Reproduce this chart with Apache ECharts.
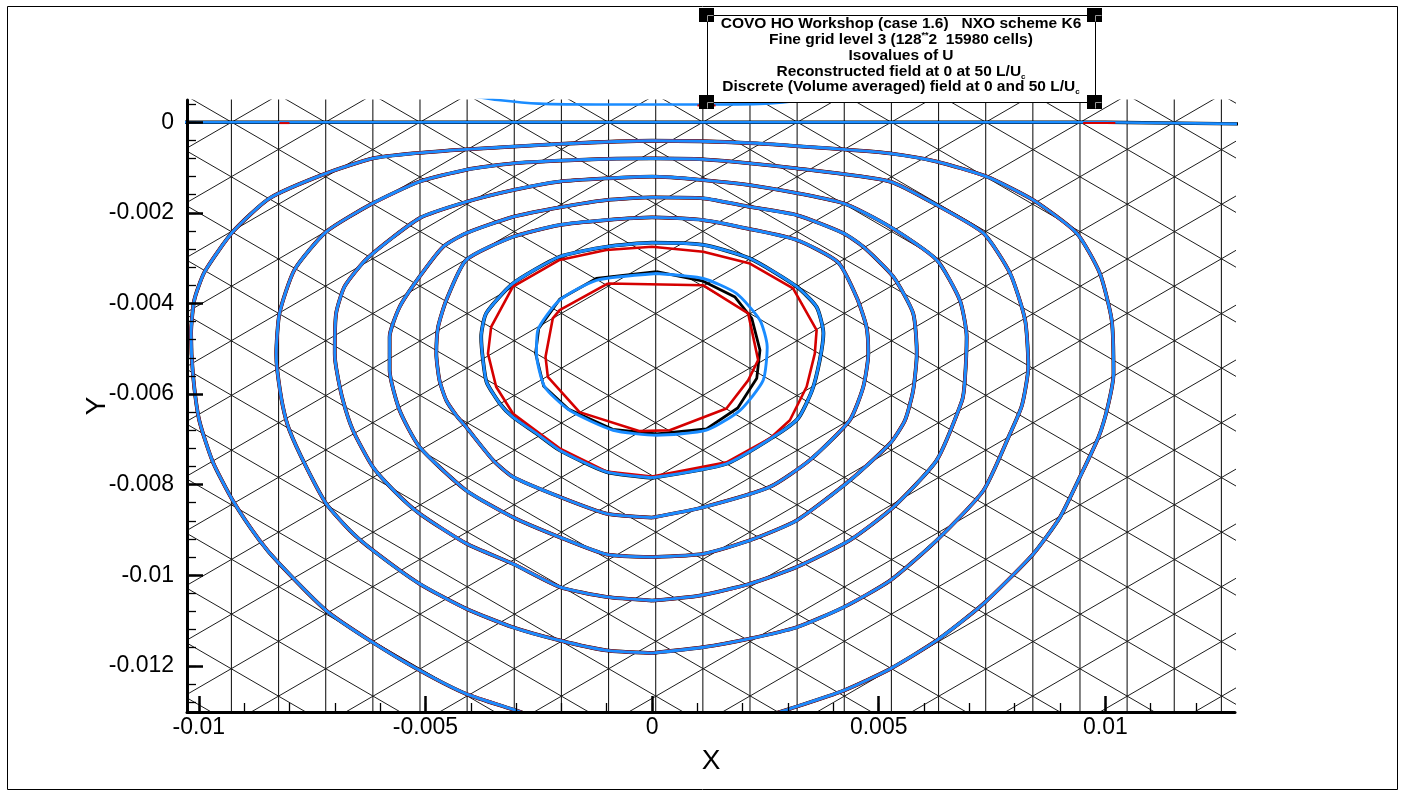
<!DOCTYPE html>
<html>
<head>
<meta charset="utf-8">
<script src="https://cdn.jsdelivr.net/npm/echarts@6.0.0/dist/echarts.min.js"></script>
<style>
  html, body { margin: 0; padding: 0; background: #fff; }
  #chart { width: 1404px; height: 793px; }
</style>
</head>
<body>
<div id="chart"></div>
<script>
// axis ranges (data units)
const xRange = [-0.01026, 0.01286];
const yRange = [-0.01302, 0.00049];

// tick values and labels
const xMajorTicks = [-0.01, -0.005, 0, 0.005, 0.01];
const xTickLabels = ['-0.01', '-0.005', '0', '0.005', '0.01'];
const xMinorTicks = [-0.01, -0.009, -0.008, -0.007, -0.006, -0.005, -0.004, -0.003, -0.002, -0.001, 0,
  0.001, 0.002, 0.003, 0.004, 0.005, 0.006, 0.007, 0.008, 0.009, 0.01, 0.011, 0.012];
const yMajorTicks = [0, -0.002, -0.004, -0.006, -0.008, -0.01, -0.012];
const yTickLabels = ['0', '-0.002', '-0.004', '-0.006', '-0.008', '-0.01', '-0.012'];
const yMinorTicks = [0.0004, 0, -0.0004, -0.0008, -0.0012, -0.0016, -0.002, -0.0024, -0.0028, -0.0032,
  -0.0036, -0.004, -0.0044, -0.0048, -0.0052, -0.0056, -0.006, -0.0064, -0.0068, -0.0072, -0.0076,
  -0.008, -0.0084, -0.0088, -0.0092, -0.0096, -0.01, -0.0104, -0.0108, -0.0112, -0.0116, -0.012,
  -0.0124, -0.0128];

// triangular mesh: vertical edges and the two families of slanted edges (y = +/-slope*x + b)
const meshColumnX = [-0.00928, -0.00824, -0.0072, -0.00616, -0.00512, -0.00408, -0.00304, -0.002,
  -0.00096, 0.00008, 0.00112, 0.00216, 0.0032, 0.00424, 0.00528, 0.00632, 0.00736, 0.0084, 0.00944,
  0.01048, 0.01152, 0.01256];
const meshSlope = 0.58;
const meshRiseIntercepts = [0.00538, 0.00418, 0.00297, 0.00176, 0.00056, -0.00065, -0.00186, -0.00306,
  -0.00427, -0.00548, -0.00668, -0.00789, -0.0091, -0.0103, -0.01151, -0.01272, -0.01392, -0.01513,
  -0.01634, -0.01754, -0.01875, -0.01996];
const meshFallIntercepts = [-0.01866, -0.01745, -0.01624, -0.01503, -0.01383, -0.01262, -0.01141,
  -0.01021, -0.009, -0.0078, -0.00659, -0.00538, -0.00418, -0.00297, -0.00176, -0.00056, 0.00065,
  0.00186, 0.00306, 0.00427, 0.00548, 0.00668, 0.00789];

// isolines of U ([x, y])
const zeroLine = [[-0.0106, 0], [0.0100, 0], [0.0131, -0.00004]];
const zeroLineRedA = [[-0.00822, -0.00002], [-0.0080, -0.00002]];
const zeroLineRedB = [[0.00951, -0.00002], [0.01022, -0.00002]];
const topLineBlue = [[-0.0040, 0.00058], [-0.0034, 0.00049], [-0.0025, 0.00041], [-0.001, 0.00039],
  [0, 0.00039], [0.001, 0.00039], [0.0025, 0.00041], [0.0034, 0.00049], [0.0040, 0.00058]];
const topLineRed = [[0.0010, 0.00037], [0.0014, 0.00037]];

const isoBlue7 = [[-0.00248, -0.01317], [-0.00299, -0.01299], [-0.0041, -0.01262], [-0.00513, -0.0121],
  [-0.00623, -0.01144], [-0.00719, -0.01078], [-0.00822, -0.00975], [-0.00866, -0.00923],
  [-0.00925, -0.00835], [-0.00969, -0.0075], [-0.00999, -0.00658], [-0.01013, -0.00555],
  [-0.01017, -0.00466], [-0.0101, -0.00393], [-0.00987, -0.0033], [-0.00925, -0.00242],
  [-0.00844, -0.00168], [-0.00719, -0.00113], [-0.00616, -0.0008], [-0.00528, -0.00069],
  [-0.00409, -0.0006], [-0.00204, -0.00048], [0, -0.00041], [0.00216, -0.00046], [0.00422, -0.0006],
  [0.00525, -0.00069], [0.00628, -0.00087], [0.00738, -0.0012], [0.00841, -0.00172], [0.00937, -0.00245],
  [0.00988, -0.00334], [0.01014, -0.00437], [0.01018, -0.00555], [0.01006, -0.00625], [0.00985, -0.00695],
  [0.00944, -0.00783], [0.009, -0.00872], [0.00841, -0.00953], [0.00731, -0.01063], [0.00628, -0.01144],
  [0.00525, -0.01207], [0.00422, -0.01255], [0.00304, -0.01295], [0.00249, -0.01312]];
const isoBlue6 = [[0, -0.01172], [-0.00101, -0.01166], [-0.00204, -0.01144], [-0.00307, -0.01115],
  [-0.0041, -0.01074], [-0.00513, -0.01019], [-0.00616, -0.00945], [-0.00667, -0.00901],
  [-0.00719, -0.00842], [-0.00763, -0.00761], [-0.008, -0.0068], [-0.00815, -0.00625],
  [-0.00827, -0.00547], [-0.00829, -0.00511], [-0.00822, -0.00422], [-0.00789, -0.00326],
  [-0.00719, -0.00242], [-0.00616, -0.00179], [-0.00513, -0.00131], [-0.0041, -0.00105],
  [-0.00307, -0.00091], [-0.0016, -0.00083], [0, -0.0008], [0.00113, -0.00082], [0.00319, -0.00102],
  [0.00525, -0.00131], [0.00628, -0.00183], [0.00731, -0.00245], [0.0079, -0.00334], [0.00823, -0.00437],
  [0.0083, -0.0054], [0.00816, -0.00625], [0.0079, -0.00687], [0.00731, -0.00813], [0.00628, -0.00923],
  [0.00525, -0.01012], [0.00422, -0.01071], [0.00319, -0.01115], [0.00216, -0.0114], [0.00113, -0.01159]];
const isoBlue5 = [[0, -0.01056], [-0.00101, -0.01048], [-0.00204, -0.01026], [-0.00307, -0.00975],
  [-0.0041, -0.0093], [-0.00513, -0.00864], [-0.00564, -0.00819], [-0.00616, -0.00761],
  [-0.0066, -0.0068], [-0.00682, -0.00614], [-0.00696, -0.00547], [-0.007, -0.00511],
  [-0.00697, -0.00422], [-0.00678, -0.00362], [-0.00628, -0.00300], [-0.00513, -0.00212],
  [-0.0041, -0.00176], [-0.00307, -0.0015], [-0.00204, -0.00131], [-0.00101, -0.00124], [0, -0.0012],
  [0.00216, -0.00139], [0.00422, -0.00179], [0.00525, -0.00231], [0.00628, -0.00304], [0.00679, -0.00393],
  [0.00694, -0.00474], [0.0069, -0.0057], [0.00684, -0.00614], [0.00628, -0.00746], [0.00532, -0.0085],
  [0.00436, -0.00923], [0.00319, -0.00982], [0.00216, -0.01019], [0.00105, -0.01045]];
const isoBlue4 = [[0, -0.0096], [-0.00101, -0.00954], [-0.00204, -0.00916], [-0.00307, -0.00872],
  [-0.0041, -0.00813], [-0.00513, -0.00717], [-0.00557, -0.00636], [-0.00579, -0.00547],
  [-0.00579, -0.00474], [-0.00557, -0.00408], [-0.00513, -0.00341], [-0.00461, -0.00275],
  [-0.0041, -0.00245], [-0.00307, -0.00209], [-0.00204, -0.00188], [-0.00101, -0.00172], [0, -0.00166],
  [0.00113, -0.00168], [0.00216, -0.00187], [0.00319, -0.00205], [0.00422, -0.00245], [0.00466, -0.00275],
  [0.00532, -0.00341], [0.00576, -0.00422], [0.00584, -0.00511], [0.00576, -0.00592], [0.00558, -0.00658],
  [0.00525, -0.00709], [0.00436, -0.00791], [0.00319, -0.00879], [0.00216, -0.00923], [0.00113, -0.00953]];
const isoBlue3 = [[0, -0.00873], [-0.00101, -0.00864], [-0.00204, -0.00827], [-0.00307, -0.00783],
  [-0.00351, -0.00746], [-0.0041, -0.00673], [-0.00432, -0.00647], [-0.00454, -0.00614],
  [-0.00469, -0.0057], [-0.00476, -0.00511], [-0.00472, -0.00452], [-0.00454, -0.00393],
  [-0.0041, -0.00304], [-0.00307, -0.00253], [-0.00204, -0.00227], [-0.00101, -0.00216], [0, -0.0021],
  [0.00113, -0.00216], [0.00216, -0.00236], [0.00319, -0.0026], [0.0041, -0.00309], [0.00452, -0.00388],
  [0.00473, -0.00452], [0.00477, -0.00511], [0.00466, -0.00584], [0.00436, -0.00658], [0.00348, -0.00746],
  [0.0026, -0.00805], [0.00113, -0.0085]];
const isoBlue2 = [[0, -0.00785], [-0.00101, -0.00772], [-0.00204, -0.00724], [-0.00255, -0.00687],
  [-0.00307, -0.00651], [-0.00336, -0.00621], [-0.00365, -0.00574], [-0.00373, -0.00525],
  [-0.00377, -0.00474], [-0.00366, -0.00422], [-0.00307, -0.00356], [-0.00204, -0.00297],
  [-0.00101, -0.00275], [0, -0.00266], [0.00113, -0.00271], [0.00216, -0.00301], [0.00319, -0.00363],
  [0.00363, -0.00408], [0.00378, -0.00466], [0.0037, -0.00525], [0.00353, -0.00592], [0.00322, -0.00654],
  [0.00267, -0.00695], [0.00164, -0.00754]];
const isoRed2 = [[0, -0.00782], [-0.00101, -0.00771], [-0.00204, -0.0072], [-0.00307, -0.00643],
  [-0.00344, -0.00584], [-0.00362, -0.00511], [-0.00355, -0.00452], [-0.00307, -0.00363],
  [-0.00204, -0.00304], [-0.00101, -0.00282], [0, -0.00275], [0.00113, -0.00286], [0.00216, -0.00312],
  [0.00311, -0.00367], [0.00363, -0.00459], [0.00359, -0.00511], [0.00341, -0.00584], [0.00304, -0.00658],
  [0.0026, -0.00698], [0.00164, -0.00751]];
const isoBlue1 = [[0.0001, -0.00334], [-0.00123, -0.00349], [-0.00204, -0.00393], [-0.00252, -0.00459],
  [-0.00255, -0.00511], [-0.00237, -0.00584], [-0.00182, -0.00636], [-0.00086, -0.0068], [0.0001, -0.00691],
  [0.0012, -0.0068], [0.00194, -0.00636], [0.00245, -0.0057], [0.00254, -0.00496], [0.00238, -0.00437],
  [0.00186, -0.00378], [0.00113, -0.00345]];
const isoBlack1 = [[0.0001, -0.0033], [-0.00123, -0.00345], [-0.00204, -0.00391], [-0.0025, -0.00455],
  [-0.00257, -0.0051], [-0.00239, -0.00583], [-0.00184, -0.00634], [-0.00087, -0.00678], [0.0001, -0.00688],
  [0.0012, -0.00677], [0.00189, -0.00631], [0.00231, -0.00565], [0.00238, -0.00503], [0.0022, -0.00433],
  [0.00183, -0.00386], [0.00113, -0.00351]];
const isoRed1 = [[-0.00097, -0.00356], [0.00113, -0.0036], [0.00212, -0.00422], [0.00234, -0.00525],
  [0.00212, -0.0057], [0.00164, -0.00632], [0.00039, -0.0068], [-0.00027, -0.00682], [-0.0016, -0.0064],
  [-0.0023, -0.00562], [-0.00235, -0.00518], [-0.00219, -0.00433], [-0.00204, -0.00415]];

const FONT = 'Liberation Sans';
const BLACK = '#000000';
const RED = '#d50000';
const BLUE = '#1a8cff';
const MESH = '#1c1c1c';

function closeLoop(points) {
  return points.concat([points[0]]);
}

function lineSeries(data, color, width, z, smooth) {
  return {
    type: 'line',
    data: data,
    symbol: 'none',
    silent: true,
    animation: false,
    clip: true,
    smooth: smooth || false,
    z: z,
    lineStyle: { color: color, width: width },
  };
}

const chart = echarts.init(document.getElementById('chart'));

const series = [];

// mesh
const yLo = yRange[0] - 0.001;
const yHi = yRange[1] + 0.001;
const xLo = xRange[0] - 0.001;
const xHi = xRange[1] + 0.001;
meshColumnX.forEach((x) => {
  series.push(lineSeries([[x, yLo], [x, yHi]], MESH, 1.1, 1));
});
meshRiseIntercepts.forEach((b) => {
  series.push(lineSeries([[xLo, meshSlope * xLo + b], [xHi, meshSlope * xHi + b]], MESH, 1, 1));
});
meshFallIntercepts.forEach((b) => {
  series.push(lineSeries([[xLo, -meshSlope * xLo + b], [xHi, -meshSlope * xHi + b]], MESH, 1, 1));
});

// outer isolines: black / red / blue nearly coincide
const SMOOTH = 0.2;
[isoBlue3, isoBlue4, isoBlue5, isoBlue6].forEach((pts) => {
  series.push(lineSeries(closeLoop(pts), BLACK, 3.8, 3, SMOOTH));
  series.push(lineSeries(closeLoop(pts), RED, 3.3, 4, SMOOTH));
  series.push(lineSeries(closeLoop(pts), BLUE, 2.9, 5, SMOOTH));
});
series.push(lineSeries(isoBlue7, BLACK, 3.8, 3, SMOOTH));
series.push(lineSeries(isoBlue7, RED, 3.3, 4, SMOOTH));
series.push(lineSeries(isoBlue7, BLUE, 2.9, 5, SMOOTH));

// inner isolines where the fields differ
series.push(lineSeries(closeLoop(isoBlue2), BLACK, 3.8, 3, SMOOTH));
series.push(lineSeries(closeLoop(isoRed2), RED, 2.6, 4));
series.push(lineSeries(closeLoop(isoBlue2), BLUE, 2.9, 5, SMOOTH));
series.push(lineSeries(closeLoop(isoBlack1), BLACK, 2.8, 3));
series.push(lineSeries(closeLoop(isoRed1), RED, 2.6, 4));
series.push(lineSeries(closeLoop(isoBlue1), BLUE, 2.9, 5, SMOOTH));

// lines along the top
series.push(lineSeries(zeroLine, BLACK, 3.4, 3));
series.push(lineSeries(zeroLine, BLUE, 2.6, 5));
series.push(lineSeries(zeroLineRedA, RED, 2, 6));
series.push(lineSeries(zeroLineRedB, RED, 2, 6));
series.push(lineSeries(topLineBlue, BLUE, 2.6, 5, SMOOTH));
series.push(lineSeries(topLineRed, RED, 2, 6));

function tickLabel(values, labels) {
  return (v) => {
    const i = values.findIndex((t) => Math.abs(t - v) < 1e-9);
    return i >= 0 ? labels[i] : '';
  };
}

const baseAxis = {
  type: 'value',
  splitLine: { show: false },
  minorTick: { show: false },
  z: 10,
};

// title box geometry
const box = { x: 707, y: 15, w: 388, h: 87 };
const handleW = 15;
const handleH = 14;
const corners = [[box.x, box.y], [box.x + box.w, box.y], [box.x, box.y + box.h], [box.x + box.w, box.y + box.h]];
const titleLines = [
  'COVO HO Workshop (case 1.6)   NXO scheme K6',
  'Fine grid level 3 (128{sup|**}2  15980 cells)',
  'Isovalues of U',
  'Reconstructed field at 0 at 50 L/U{sub|c}',
  'Discrete (Volume averaged) field at 0 and 50 L/U{sub|c}',
];
const titleLineY = [24, 40, 56, 71.5, 87];

const graphics = [
  {
    type: 'rect',
    z: 100,
    silent: true,
    shape: { x: 7.5, y: 6.5, width: 1390, height: 783 },
    style: { fill: 'none', stroke: BLACK, lineWidth: 1 },
  },
  {
    type: 'rect',
    z: 100,
    silent: true,
    shape: { x: box.x + 0.5, y: box.y + 0.5, width: box.w, height: box.h },
    style: { fill: '#ffffff', stroke: BLACK, lineWidth: 1 },
  },
];
corners.forEach((c) => {
  graphics.push({
    type: 'rect',
    z: 101,
    silent: true,
    shape: { x: c[0] - 8, y: c[1] - 7, width: handleW, height: handleH },
    style: { fill: BLACK },
  });
  // light edge of the box seen through the handle
  graphics.push({
    type: 'polyline',
    z: 101,
    silent: true,
    shape: { points: [[c[0] + 0.5, c[1] + 6.5], [c[0] + 0.5, c[1] + 0.5], [c[0] + 6.5, c[1] + 0.5]] },
    style: { stroke: '#9a9a9a', lineWidth: 1, fill: 'none' },
  });
});
titleLines.forEach((t, i) => {
  graphics.push({
    type: 'text',
    z: 102,
    silent: true,
    style: {
      text: t,
      x: box.x + box.w / 2,
      y: titleLineY[i],
      align: 'center',
      verticalAlign: 'middle',
      fontFamily: FONT,
      fontSize: 15.5,
      fontWeight: 'bold',
      fill: BLACK,
      lineHeight: 18,
      rich: {
        sub: { fontFamily: FONT, fontSize: 8, fontWeight: 'bold', fill: BLACK, verticalAlign: 'bottom', lineHeight: 18 },
        sup: { fontFamily: FONT, fontSize: 9, fontWeight: 'bold', fill: BLACK, verticalAlign: 'top', lineHeight: 18 },
      },
    },
  });
});

const option = {
  animation: false,
  backgroundColor: '#ffffff',
  grid: { left: 187, top: 100, width: 1048, height: 612, containLabel: false },
  xAxis: [
    Object.assign({}, baseAxis, {
      min: xRange[0],
      max: xRange[1],
      position: 'bottom',
      name: 'X',
      nameLocation: 'middle',
      nameGap: 35,
      nameMoveOverlap: false,
      nameTextStyle: { fontFamily: FONT, fontSize: 28, color: BLACK },
      axisLine: { show: true, onZero: false, lineStyle: { color: BLACK, width: 3 } },
      axisTick: { show: true, inside: true, length: 16, lineStyle: { color: BLACK, width: 2.5 }, customValues: xMajorTicks },
      axisLabel: {
        show: true,
        customValues: xMajorTicks,
        formatter: tickLabel(xMajorTicks, xTickLabels),
        fontFamily: FONT,
        fontSize: 23,
        color: BLACK,
        margin: 4,
      },
    }),
    Object.assign({}, baseAxis, {
      min: xRange[0],
      max: xRange[1],
      position: 'bottom',
      axisLine: { show: false, onZero: false },
      axisTick: { show: true, inside: true, length: 9, lineStyle: { color: BLACK, width: 1.3 }, customValues: xMinorTicks },
      axisLabel: { show: false },
    }),
  ],
  yAxis: [
    Object.assign({}, baseAxis, {
      min: yRange[0],
      max: yRange[1],
      position: 'left',
      name: 'Y',
      nameLocation: 'middle',
      nameGap: 76,
      nameMoveOverlap: false,
      nameRotate: 90,
      nameTextStyle: { fontFamily: FONT, fontSize: 28, color: BLACK },
      axisLine: { show: true, onZero: false, lineStyle: { color: BLACK, width: 3 } },
      axisTick: { show: true, inside: true, length: 16, lineStyle: { color: BLACK, width: 2.5 }, customValues: yMajorTicks },
      axisLabel: {
        show: true,
        customValues: yMajorTicks,
        formatter: tickLabel(yMajorTicks, yTickLabels),
        fontFamily: FONT,
        fontSize: 23,
        color: BLACK,
        margin: 13,
      },
    }),
    Object.assign({}, baseAxis, {
      min: yRange[0],
      max: yRange[1],
      position: 'left',
      axisLine: { show: false, onZero: false },
      axisTick: { show: true, inside: true, length: 9, lineStyle: { color: BLACK, width: 1.3 }, customValues: yMinorTicks },
      axisLabel: { show: false },
    }),
  ],
  series: series,
  graphic: { elements: graphics },
};

chart.setOption(option);
</script>
</body>
</html>
